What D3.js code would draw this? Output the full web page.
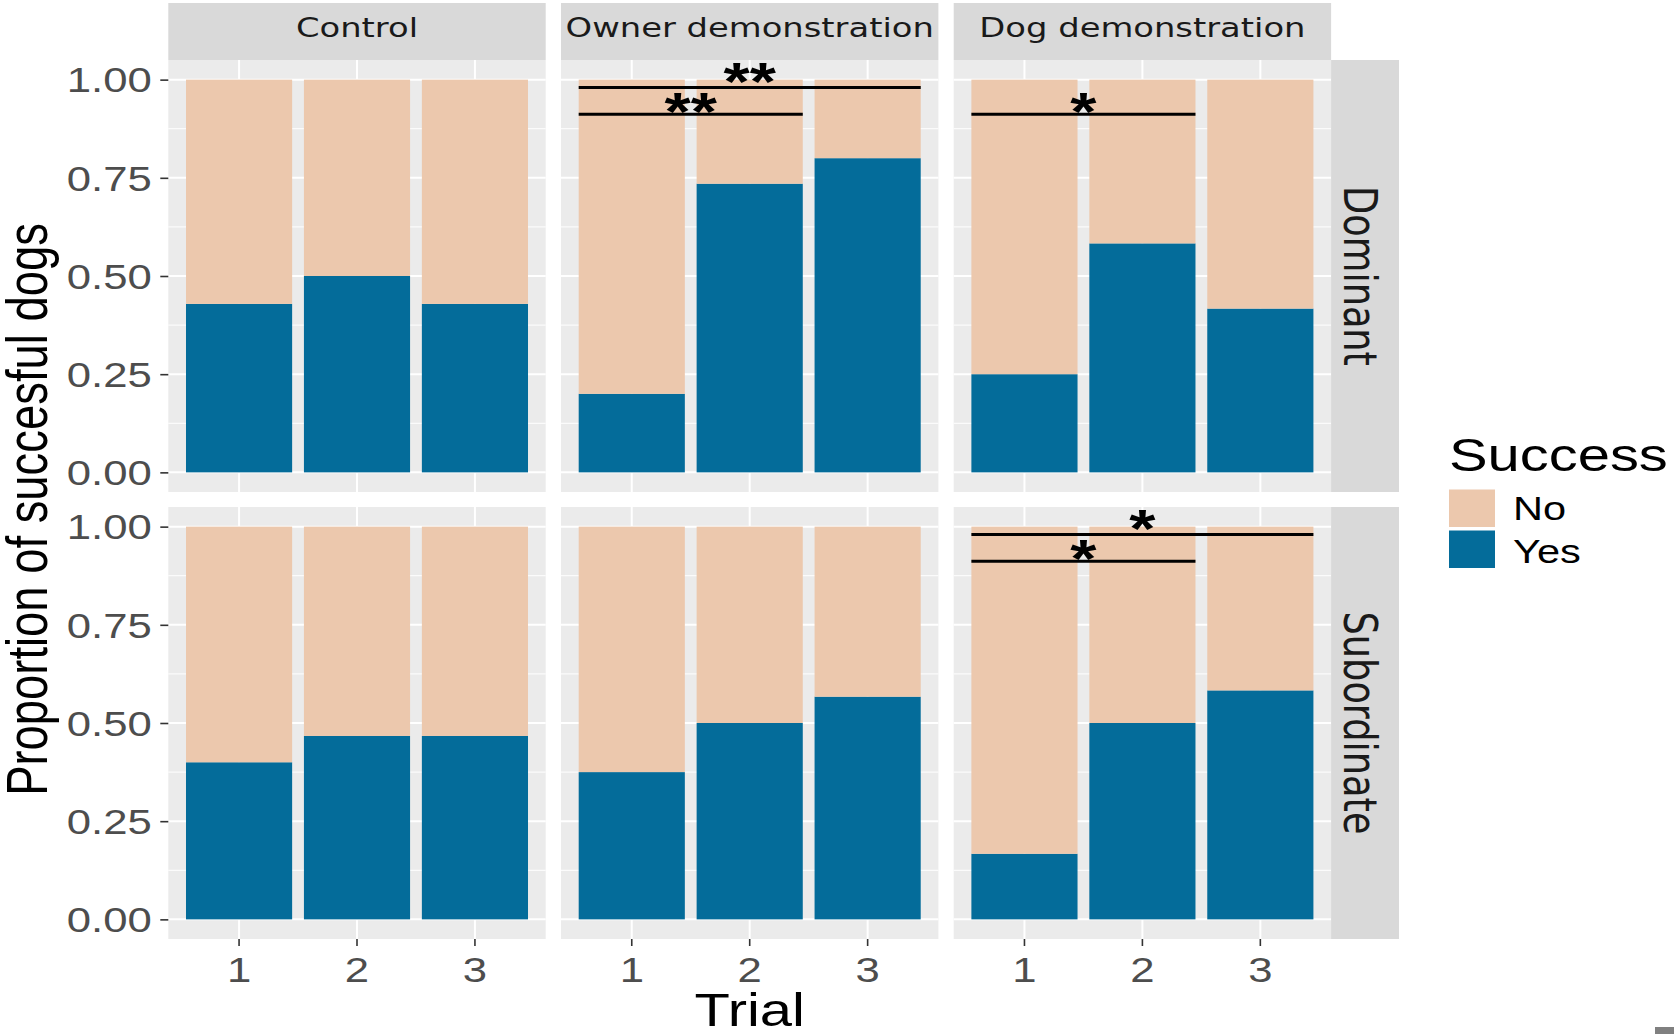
<!DOCTYPE html>
<html>
<head>
<meta charset="utf-8">
<script src="https://cdn.jsdelivr.net/npm/d3@7"></script>
<style>
  body { margin: 0; background: #ffffff; }
  svg { display: block; }
</style>
</head>
<body>
<div id="chart"></div>
<script>
// facets and categories
const treatments = ["Control", "Owner demonstration", "Dog demonstration"];
const ranks = ["Dominant", "Subordinate"];
const trials = ["1", "2", "3"];
const outcomes = ["No", "Yes"];

// proportion of "Yes" per trial, one row per treatment
const yesDominant = [
  [0.429, 0.500, 0.429],
  [0.200, 0.735, 0.800],
  [0.250, 0.583, 0.417]
];
const yesSubordinate = [
  [0.400, 0.467, 0.467],
  [0.375, 0.500, 0.567],
  [0.167, 0.500, 0.583]
];

const yTicks = [0, 0.25, 0.5, 0.75, 1];
const yTickLabels = ["0.00", "0.25", "0.50", "0.75", "1.00"];

// significance brackets
const sigRank = ["Dominant", "Dominant", "Dominant", "Subordinate", "Subordinate"];
const sigTreatment = ["Owner demonstration", "Owner demonstration", "Dog demonstration", "Dog demonstration", "Dog demonstration"];
const sigFrom = ["1", "1", "1", "1", "1"];
const sigTo = ["3", "2", "2", "3", "2"];
const sigLineY = [0.98, 0.912, 0.912, 0.98, 0.912];
const sigLabelY = [1.022, 0.947, 0.947, 1.022, 0.947];
const sigLabel = ["**", "**", "*", "*", "*"];

const colors = { No: "#ECC8AD", Yes: "#046C9A" };

const svgWidth = 1674;
const svgHeight = 1034;

// the picture is stretched sideways, so text gets stretched too
const SX = 1.27;

const panelLeft = 168.3;
const panelW = 377.4;
const gapX = 15.3;
const panelTops = [60, 507];
const panelH = 432;
const stripTop = 3;
const stripRight = 1399;

var svg = d3.select("#chart")
  .append("svg")
  .attr("width", svgWidth)
  .attr("height", svgHeight);

function stretch(sel, x, y, rot) {
  sel.attr("transform", `translate(${x},${y}) scale(${SX},1)` + (rot ? ` rotate(${rot})` : ""));
  return sel;
}

var x = d3.scaleBand()
  .domain(trials)
  .range([0, panelW])
  .paddingInner(0.1)
  .paddingOuter(0.15);

var y = d3.scaleLinear()
  .domain([-0.05, 1.05])
  .range([panelH, 0]);

var minorTicks = d3.pairs(yTicks).map(p => (p[0] + p[1]) / 2);

var stack = d3.stack().keys(["Yes", "No"]);

ranks.forEach(function(rank, ri) {
  var values = rank === "Dominant" ? yesDominant : yesSubordinate;

  treatments.forEach(function(treat, ti) {
    var left = panelLeft + ti * (panelW + gapX);
    var top = panelTops[ri];

    var g = svg.append("g")
      .attr("transform", `translate(${left},${top})`);

    // panel background + grid
    g.append("rect")
      .attr("width", panelW)
      .attr("height", panelH)
      .attr("fill", "#EBEBEB");

    g.selectAll(".minor")
      .data(minorTicks)
      .enter()
      .append("line")
      .attr("x1", 0).attr("x2", panelW)
      .attr("y1", d => y(d)).attr("y2", d => y(d))
      .attr("stroke", "#ffffff")
      .attr("stroke-width", 1);

    g.selectAll(".major")
      .data(yTicks)
      .enter()
      .append("line")
      .attr("x1", 0).attr("x2", panelW)
      .attr("y1", d => y(d)).attr("y2", d => y(d))
      .attr("stroke", "#ffffff")
      .attr("stroke-width", 2);

    g.selectAll(".vgrid")
      .data(trials)
      .enter()
      .append("line")
      .attr("x1", d => x(d) + x.bandwidth() / 2)
      .attr("x2", d => x(d) + x.bandwidth() / 2)
      .attr("y1", 0).attr("y2", panelH)
      .attr("stroke", "#ffffff")
      .attr("stroke-width", 2);

    // stacked bars
    var rows = trials.map((t, i) => ({ trial: t, Yes: values[ti][i], No: 1 - values[ti][i] }));
    var series = stack(rows);

    series.forEach(function(s) {
      g.selectAll(".bar-" + s.key)
        .data(s)
        .enter()
        .append("rect")
        .attr("x", d => x(d.data.trial))
        .attr("width", x.bandwidth())
        .attr("y", d => y(d[1]))
        .attr("height", d => y(d[0]) - y(d[1]))
        .attr("fill", colors[s.key]);
    });

    // significance brackets
    sigRank.forEach(function(r, k) {
      if (r !== rank || sigTreatment[k] !== treat) return;
      var x0 = x(sigFrom[k]);
      var x1 = x(sigTo[k]) + x.bandwidth();
      g.append("line")
        .attr("x1", x0).attr("x2", x1)
        .attr("y1", y(sigLineY[k])).attr("y2", y(sigLineY[k]))
        .attr("stroke", "#000000")
        .attr("stroke-width", 3);
      var mid = (x(sigFrom[k]) + x(sigTo[k]) + x.bandwidth()) / 2;
      var lab = g.append("text")
        .text(sigLabel[k])
        .attr("text-anchor", "middle")
        .attr("font-family", "Liberation Sans, Arial, sans-serif")
        .attr("font-weight", "bold")
        .attr("font-size", 53)
        .attr("fill", "#000000");
      stretch(lab, mid, y(sigLabelY[k]) + 0.555 * 53);
    });

    // top strips
    if (ri === 0) {
      svg.append("rect")
        .attr("x", left).attr("y", stripTop)
        .attr("width", panelW).attr("height", top - stripTop)
        .attr("fill", "#D9D9D9");
      var st = svg.append("text")
        .text(treat)
        .attr("text-anchor", "middle")
        .attr("font-family", "DejaVu Sans, sans-serif")
        .attr("font-size", 26.6)
        .attr("fill", "#1A1A1A");
      stretch(st, left + panelW / 2, 37);
    }

    // left axis
    if (ti === 0) {
      var yAxis = g.append("g")
        .call(d3.axisLeft(y).tickValues(yTicks).tickFormat((d, i) => yTickLabels[i]).tickSize(8));
      yAxis.select(".domain").remove();
      yAxis.selectAll("line").attr("stroke", "#333333").attr("stroke-width", 1.6);
      yAxis.selectAll("text")
        .attr("x", 0)
        .attr("dy", null)
        .attr("y", 0)
        .attr("font-family", "Liberation Sans, Arial, sans-serif")
        .attr("font-size", 34.4)
        .attr("fill", "#4D4D4D")
        .attr("transform", `translate(-16.6,12.3) scale(${SX},1)`);
    }

    // bottom axis
    if (ri === ranks.length - 1) {
      var xAxis = g.append("g")
        .attr("transform", `translate(0,${panelH})`)
        .call(d3.axisBottom(x).tickSize(7));
      xAxis.select(".domain").remove();
      xAxis.selectAll("line").attr("stroke", "#333333").attr("stroke-width", 1.6);
      xAxis.selectAll("text")
        .attr("x", 0)
        .attr("dy", null)
        .attr("y", 0)
        .attr("font-family", "Liberation Sans, Arial, sans-serif")
        .attr("font-size", 34.4)
        .attr("fill", "#4D4D4D")
        .attr("transform", `translate(0,42.7) scale(${SX},1)`);
    }
  });

  // right strips
  var rightLeft = panelLeft + 3 * panelW + 2 * gapX;
  var top = panelTops[ri];
  svg.append("rect")
    .attr("x", rightLeft).attr("y", top)
    .attr("width", stripRight - rightLeft).attr("height", panelH)
    .attr("fill", "#D9D9D9");
  var rt = svg.append("text")
    .text(rank)
    .attr("text-anchor", "middle")
    .attr("font-family", "DejaVu Sans, sans-serif")
    .attr("font-size", 36.7)
    .attr("fill", "#1A1A1A");
  stretch(rt, (rightLeft + stripRight) / 2 - 0.729 * 36.7 * SX / 2 - 4, top + panelH / 2, 90);
});

// axis titles
var yTitle = svg.append("text")
  .text("Proportion of succesful dogs")
  .attr("text-anchor", "middle")
  .attr("font-family", "Liberation Sans, Arial, sans-serif")
  .attr("font-size", 45.4)
  .attr("fill", "#000000");
stretch(yTitle, 47, (panelTops[0] + panelTops[1] + panelH) / 2 + 10, -90);

var xTitle = svg.append("text")
  .text("Trial")
  .attr("text-anchor", "middle")
  .attr("font-family", "Liberation Sans, Arial, sans-serif")
  .attr("font-size", 45.6)
  .attr("fill", "#000000");
stretch(xTitle, panelLeft + (3 * panelW + 2 * gapX) / 2, 1026);

// legend
var legend = svg.append("g");
var lt = legend.append("text")
  .text("Success")
  .attr("font-family", "Liberation Sans, Arial, sans-serif")
  .attr("font-size", 45.6)
  .attr("fill", "#000000");
stretch(lt, 1449, 470.7);

outcomes.forEach(function(o, i) {
  legend.append("rect")
    .attr("x", 1449)
    .attr("y", 489.5 + i * 41)
    .attr("width", 46)
    .attr("height", 37.5)
    .attr("fill", colors[o]);
  var t = legend.append("text")
    .text(o)
    .attr("font-family", "Liberation Sans, Arial, sans-serif")
    .attr("font-size", 32.7)
    .attr("fill", "#000000");
  stretch(t, 1513, 520 + i * 43.3);
});

// small grey mark at the bottom right corner of the picture
svg.append("rect")
  .attr("x", 1655).attr("y", 1027)
  .attr("width", 19).attr("height", 7)
  .attr("fill", "#808080");
</script>
</body>
</html>
